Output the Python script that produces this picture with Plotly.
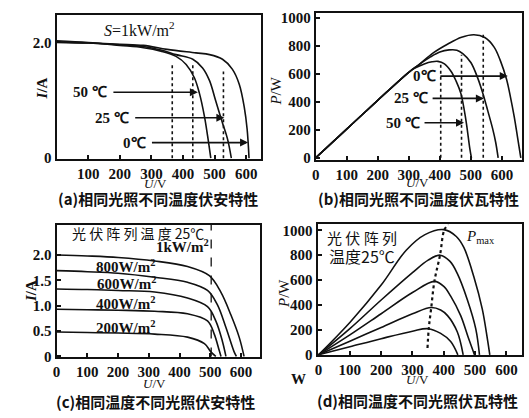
import plotly.graph_objects as go

W, H = 529, 418

# ---------------- data ----------------
# (a) I-U, same irradiance, different temperatures
a_u_50 = [0, 100, 200, 275, 330, 378, 410, 436, 452, 468, 478, 488]
a_i_50 = [2.03, 2.0, 1.95, 1.91, 1.85, 1.76, 1.62, 1.39, 1.12, 0.72, 0.38, 0]
a_u_25 = [0, 100, 200, 275, 330, 378, 431, 462, 484, 503, 525, 541, 553]
a_i_25 = [2.01, 1.99, 1.96, 1.93, 1.87, 1.79, 1.71, 1.56, 1.34, 1.00, 0.61, 0.33, 0]
a_u_0 = [0, 100, 200, 275, 350, 441, 484, 525, 556, 578, 594, 603, 609]
a_i_0 = [2.0, 1.99, 1.97, 1.95, 1.88, 1.82, 1.79, 1.71, 1.54, 1.28, 0.88, 0.50, 0]
a_dot_u = [366, 431, 528]
a_dot_top = [1.64, 1.64, 1.50]
a_labels = ["50 ℃", "25 ℃", "0℃"]
a_arrow_from = [175, 244, 297]
a_arrow_to = [447, 531, 606]
a_arrow_i = [1.14, 0.70, 0.27]

# (b) P-U, same irradiance, different temperatures
b_u_0 = [0, 100, 200, 300, 333, 380, 426, 470, 510, 545, 575, 596, 615, 628, 640, 650, 661]
b_p_0 = [0, 205, 410, 610, 665, 750, 812, 860, 878, 858, 790, 688, 560, 430, 290, 153, 0]
b_u_25 = [0, 100, 200, 300, 330, 370, 400, 430, 455, 474, 500, 522, 540, 554, 570, 580, 588]
b_p_25 = [0, 205, 410, 610, 660, 720, 755, 770, 768, 743, 680, 570, 450, 340, 210, 111, 0]
b_u_50 = [0, 100, 200, 300, 320, 350, 375, 394, 415, 436, 452, 468, 484, 497, 502]
b_p_50 = [0, 205, 410, 610, 640, 670, 685, 688, 670, 618, 550, 458, 271, 62, 0]
b_dot_u = [403, 470, 540]
b_dot_top = [676, 736, 884]
b_labels = ["0℃", "25 ℃", "50 ℃"]
b_arrow_from = [397, 372, 346]
b_arrow_to = [619, 542, 478]
b_arrow_p = [583, 424, 250]

# (c) I-U, same temperature, different irradiance
c_u_1000 = [0, 100, 200, 319, 426, 497, 534, 567, 594, 610]
c_i_1000 = [2.0, 1.98, 1.95, 1.88, 1.77, 1.59, 1.27, 0.82, 0.38, 0]
c_u_800 = [0, 100, 200, 319, 426, 491, 523, 551, 577, 585]
c_i_800 = [1.69, 1.67, 1.64, 1.56, 1.46, 1.30, 1.02, 0.57, 0.10, 0]
c_u_600 = [0, 100, 200, 319, 426, 491, 518, 539, 551]
c_i_600 = [1.33, 1.32, 1.30, 1.27, 1.15, 0.98, 0.70, 0.31, 0]
c_u_400 = [0, 100, 200, 319, 426, 491, 513, 529, 535]
c_i_400 = [0.93, 0.92, 0.91, 0.89, 0.84, 0.70, 0.44, 0.12, 0]
c_u_200 = [0, 100, 200, 319, 426, 481, 502, 518]
c_i_200 = [0.48, 0.47, 0.46, 0.44, 0.38, 0.25, 0.09, 0]
c_dash_u = 503

# (d) P-U, same temperature, different irradiance
d_u_1000 = [0, 100, 200, 280, 340, 400, 440, 464, 496, 523, 539, 547]
d_p_1000 = [0, 260, 560, 840, 965, 1005, 950, 862, 627, 367, 133, 0]
d_u_800 = [0, 100, 200, 300, 350, 388, 420, 443, 475, 502, 514]
d_p_800 = [0, 210, 440, 660, 760, 800, 750, 654, 445, 211, 0]
d_u_600 = [0, 100, 200, 300, 370, 400, 422, 454, 479, 498]
d_p_600 = [0, 160, 330, 500, 590, 550, 471, 315, 133, 0]
d_u_400 = [0, 100, 200, 300, 360, 390, 412, 443, 462]
d_p_400 = [0, 110, 220, 330, 380, 360, 315, 185, 0]
d_u_200 = [0, 100, 200, 300, 350, 390, 422, 445]
d_p_200 = [0, 65, 130, 190, 210, 172, 107, 0]
d_pmax_u = [348, 352, 360, 370, 388, 402, 415]
d_pmax_p = [55, 210, 380, 590, 800, 1005, 1045]

x_ticks = [0, 100, 200, 300, 400, 500, 600]
p_ticks = [0, 200, 400, 600, 800, 1000]
c_i_ticks = [0, 0.5, 1.0, 1.5, 2.0]
c_i_ticktext = ["0", "0.5", "1.0", "1.5", "2.0"]

# ---------------- figure ----------------
fig = go.Figure()
LW = 1.6
black = "#111"

def curve(u, v, xa, ya, dash="solid", width=LW, shape="spline"):
    fig.add_trace(go.Scatter(x=u, y=v, mode="lines", xaxis=xa, yaxis=ya,
                             line=dict(color=black, width=width, dash=dash, shape=shape),
                             showlegend=False, hoverinfo="skip"))

# (a)
for u, i in [(a_u_50, a_i_50), (a_u_25, a_i_25), (a_u_0, a_i_0)]:
    curve(u, i, "x", "y")
for u, t in zip(a_dot_u, a_dot_top):
    curve([u, u], [0, t], "x", "y", dash="dot", shape="linear")
# (b)
for u, p in [(b_u_0, b_p_0), (b_u_25, b_p_25), (b_u_50, b_p_50)]:
    curve(u, p, "x2", "y2")
for u, t in zip(b_dot_u, b_dot_top):
    curve([u, u], [0, t], "x2", "y2", dash="dot", shape="linear")
# (c)
for u, i in [(c_u_1000, c_i_1000), (c_u_800, c_i_800), (c_u_600, c_i_600),
             (c_u_400, c_i_400), (c_u_200, c_i_200)]:
    curve(u, i, "x3", "y3")
curve([c_dash_u, c_dash_u], [0, 2.6], "x3", "y3", dash="dash", width=1.3, shape="linear")
# (d)
for u, p in [(d_u_1000, d_p_1000), (d_u_800, d_p_800), (d_u_600, d_p_600),
             (d_u_400, d_p_400), (d_u_200, d_p_200)]:
    curve(u, p, "x4", "y4")
curve(d_pmax_u, d_pmax_p, "x4", "y4", dash="dot", width=2.2)

def px2(x0, x1):
    return [x0 / W, x1 / W]

def py2(top, bottom):
    return [1 - bottom / H, 1 - top / H]

tickfont = dict(family="Liberation Serif", size=15, color=black, weight="bold")

def xax(domain, rng, tickvals, anchor):
    return dict(domain=domain, range=rng, tickvals=tickvals, ticks="inside", ticklen=4,
                tickwidth=1.5, tickcolor=black, showline=True, mirror=True, linecolor=black,
                linewidth=2, showgrid=False, zeroline=False, tickfont=tickfont, anchor=anchor,
                ticklabelstandoff=0)

def yax(domain, rng, tickvals, ticktext, anchor):
    return dict(domain=domain, range=rng, tickvals=tickvals, ticktext=ticktext, ticks="inside",
                ticklen=4, tickwidth=1.5, tickcolor=black, showline=True, mirror=True,
                linecolor=black, linewidth=2, showgrid=False, zeroline=False, tickfont=tickfont,
                anchor=anchor, ticklabelstandoff=0)

fig.update_layout(
    width=W, height=H, margin=dict(l=0, r=0, t=0, b=0),
    paper_bgcolor="white", plot_bgcolor="white",
    xaxis=xax(px2(53, 259), [0, 647], [100, 200, 300, 400, 500, 600], "y"),
    yaxis=yax(py2(12, 160), [-0.01, 2.48], [0, 2.0], ["0", "2.0"], "x"),
    xaxis2=xax(px2(314, 522), [0, 665], x_ticks, "y2"),
    yaxis2=yax(py2(10, 161), [-14, 1035], p_ticks, [str(v) for v in p_ticks], "x2"),
    xaxis3=xax(px2(53, 258), [0, 662], x_ticks, "y3"),
    yaxis3=yax(py2(228, 364), [-0.02, 2.59], c_i_ticks, c_i_ticktext, "x3"),
    xaxis4=xax(px2(316, 522), [-3, 650], x_ticks, "y4"),
    yaxis4=yax(py2(227, 362), [-5, 1050], p_ticks, [str(v) for v in p_ticks], "x4"),
)

ann = []
def ptext(x, y, text, size=15, angle=0, family="Liberation Serif", weight="bold"):
    ann.append(dict(x=x / W, y=1 - y / H, xref="paper", yref="paper", text=text,
                    showarrow=False, textangle=angle, xanchor="center", yanchor="middle",
                    font=dict(family=family, size=size, color=black, weight=weight)))

def arrow(x0, x1, y, xr, yr):
    ann.append(dict(x=x1, y=y, ax=x0, ay=y, xref=xr, yref=yr, axref=xr, ayref=yr, text="",
                    showarrow=True, arrowhead=2, arrowsize=1, arrowwidth=1.6,
                    arrowcolor=black, standoff=0, startstandoff=0))

cjk = "Noto Sans CJK SC"
# captions
ptext(155, 201, "(a)相同光照不同温度伏安特性", 15, family=cjk)
ptext(418, 201, "(b)相同光照不同温度伏瓦特性", 15, family=cjk)
ptext(153, 409, "(c)相同温度不同光照伏安特性", 15, family=cjk)
ptext(417, 408, "(d)相同温度不同光照伏瓦特性", 15, family=cjk)
# axis titles
for x, y in [(153, 185), (417, 184), (152, 391), (417, 387)]:
    ptext(x, y, "<i>U</i>/V", 13, weight="normal")
ptext(38, 88, "<i>I</i>/A", 15, angle=-90)
ptext(274, 90, "<i>P</i>/W", 15, angle=-90, weight="normal")
ptext(27, 296, "<i>I</i>/A", 15, angle=-90)
ptext(282, 298, "<i>P</i>/W", 15, angle=-90, weight="normal")
ptext(297, 386, "W", 15)

# (a) labels
ptext(137, 27, "<i>S</i>=1kW/m<sup>2</sup>", 16, weight="normal")
for lab, x0, x1, yv in zip(a_labels, a_arrow_from, a_arrow_to, a_arrow_i):
    arrow(x0, x1, yv, "x", "y")
    ann.append(dict(x=x0 - 8, y=yv, xref="x", yref="y", text=lab, showarrow=False,
                    xanchor="right", yanchor="middle",
                    font=dict(family="Liberation Serif", size=15, color=black, weight="bold")))
# (b) labels
for lab, x0, x1, yv in zip(b_labels, b_arrow_from, b_arrow_to, b_arrow_p):
    arrow(x0, x1, yv, "x2", "y2")
    ann.append(dict(x=x0 - 4, y=yv, xref="x2", yref="y2", text=lab, showarrow=False,
                    xanchor="right", yanchor="middle",
                    font=dict(family="Liberation Serif", size=15, color=black, weight="bold")))
# (c) labels
ptext(135, 236, "光 伏 阵 列 温 度 25℃", 14, family=cjk, weight="normal")
ptext(180, 250, "1kW/m<sup>2</sup>", 15)
ptext(122, 270, "800W/m<sup>2</sup>", 15)
ptext(123, 288, "600W/m<sup>2</sup>", 15)
ptext(122, 308, "400W/m<sup>2</sup>", 15)
ptext(122, 333, "200W/m<sup>2</sup>", 15)
# (d) labels
ptext(361, 241, "光 伏 阵 列", 15, family=cjk, weight="normal")
ptext(361, 260, "温度25℃", 16, family=cjk, weight="normal")
ptext(480, 240, "<i>P</i><sub>max</sub>", 15, weight="normal")

fig.update_layout(annotations=ann)
fig.write_html("out.html", config={"displayModeBar": False},
               post_script="document.body.style.margin='0';document.body.style.overflow='hidden';")
